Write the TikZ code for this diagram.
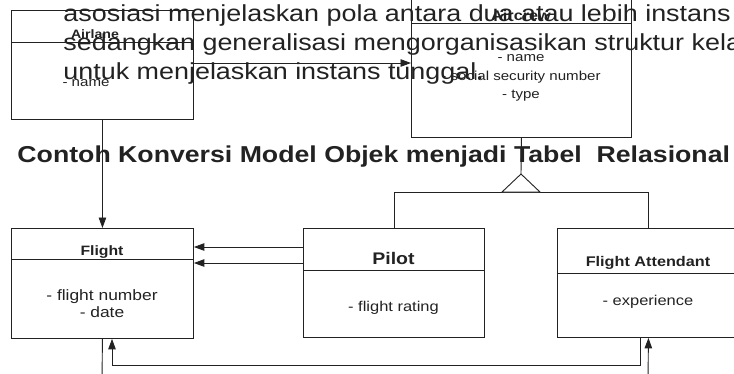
\documentclass[tikz,border=0pt]{standalone}
\usepackage{fontspec}
\setmainfont{Liberation Sans}
\usetikzlibrary{arrows.meta}
% slightly wide lettering used throughout the drawing
\newcommand\hx[1]{\scalebox{1.16}[1]{#1}}
\newcommand\fsz[1]{\fontsize{#1}{#1}\selectfont}
\definecolor{ink}{HTML}{222222}
\begin{document}
\begin{tikzpicture}[x=1pt,y=-1pt,line width=0.9pt,
  umlbox/.style={draw=ink,inner sep=0,anchor=north west},
  arr/.style={-{Triangle[length=10.5pt,width=7.5pt]}},
  lbl/.style={inner sep=0,text=ink},
  boxtitle/.style={lbl,font=\bfseries\fsz{#1}},
  attr/.style={lbl,font=\fsz{#1}}]
\useasboundingbox (0,0) rectangle (734,373);
\clip (0,0) rectangle (734,373);

% overlaid paragraph
\node[lbl,anchor=base west,font=\fsz{23.2}] (p1) at (63,21) {\hx{asosiasi menjelaskan pola antara dua atau lebih instans}};
\node[lbl,anchor=base west,font=\fsz{23.2}] (p2) at (63,50) {\hx{sedangkan generalisasi mengorganisasikan struktur kelas}};
\node[lbl,anchor=base west,font=\fsz{23.2}] (p3) at (63,79) {\hx{untuk menjelaskan instans tunggal.}};

% heading
\node[lbl,anchor=base west,font=\bfseries\fsz{23}] (head) at (17,162) {\hx{Contoh Konversi Model Objek menjadi Tabel\ \ Relasional}};

% classes
\node[umlbox,minimum width=182pt,minimum height=109pt] (airlane) at (11,10) {};
\node[umlbox,minimum width=220pt,minimum height=147pt] (aircrew) at (411,-10) {};
\node[umlbox,minimum width=182pt,minimum height=110pt] (flight) at (11,228) {};
\node[umlbox,minimum width=181pt,minimum height=109pt] (pilot) at (303,228) {};
\node[umlbox,minimum width=182pt,minimum height=109pt] (fa) at (557,228) {};

% compartment dividers
\draw[ink] (airlane.west |- 0,42) -- (airlane.east |- 0,42);
\draw[ink] (aircrew.west |- 0,23) -- (aircrew.east |- 0,23);
\draw[ink] (flight.west |- 0,259) -- (flight.east |- 0,259);
\draw[ink] (pilot.west |- 0,270) -- (pilot.east |- 0,270);
\draw[ink] (fa.west |- 0,273) -- (fa.east |- 0,273);

% class names and attributes
\node[boxtitle=12.2] (airlaneT) at (95,34.5) {\hx{Airlane}};
\node[attr=13] (airlaneA) at (86,83) {\hx{- name}};
\node[boxtitle=14] (aircrewT) at (521,15) {\hx{Aircrew}};
\node[attr=13] (aircrewA1) at (521,58) {\hx{- name}};
\node[attr=13] (aircrewA2) at (521,77) {\hx{- social security number}};
\node[attr=13] (aircrewA3) at (521,96) {\hx{- type}};
\node[boxtitle=13.6] (flightT) at (102,252) {\hx{Flight}};
\node[attr=15] (flightA1) at (102,297) {\hx{- flight number}};
\node[attr=15] (flightA2) at (102,312) {\hx{- date}};
\node[boxtitle=16.8] (pilotT) at (393.5,258) {\hx{Pilot}};
\node[attr=14.2] (pilotA) at (393.5,308) {\hx{- flight rating}};
\node[boxtitle=14] (faT) at (648,263) {\hx{Flight Attendant}};
\node[attr=14.2] (faA) at (648,302) {\hx{- experience}};

% associations
\draw[ink,arr] (airlane.east |- 0,63) -- (aircrew.west |- 0,63);
\draw[ink,arr] (airlane.south) -- (flight.north);
\draw[ink,arr] (pilot.west |- 0,247) -- (flight.east |- 0,247);
\draw[ink,arr] (pilot.west |- 0,263) -- (flight.east |- 0,263);
\coordinate (flightOut) at (102,380);
\coordinate (faIn) at (648,380);
\draw[ink] (flight.south) -- (flightOut);
\draw[ink,arr] (fa.south -| 640,0) |- (112,365) -- (flight.south -| 112,0);
\draw[ink,arr] (faIn) -- (fa.south);

% generalisation
\coordinate (apex) at (521,174);
\coordinate (baseL) at (502,192);
\coordinate (baseR) at (540,192);
\draw[ink] (aircrew.south) -- (apex);
\draw[ink] (pilot.north) |- (fa.north |- baseL) -- (fa.north);
\draw[ink,fill=white] (apex) -- (baseL) -- (baseR) -- cycle;
\end{tikzpicture}
\end{document}
